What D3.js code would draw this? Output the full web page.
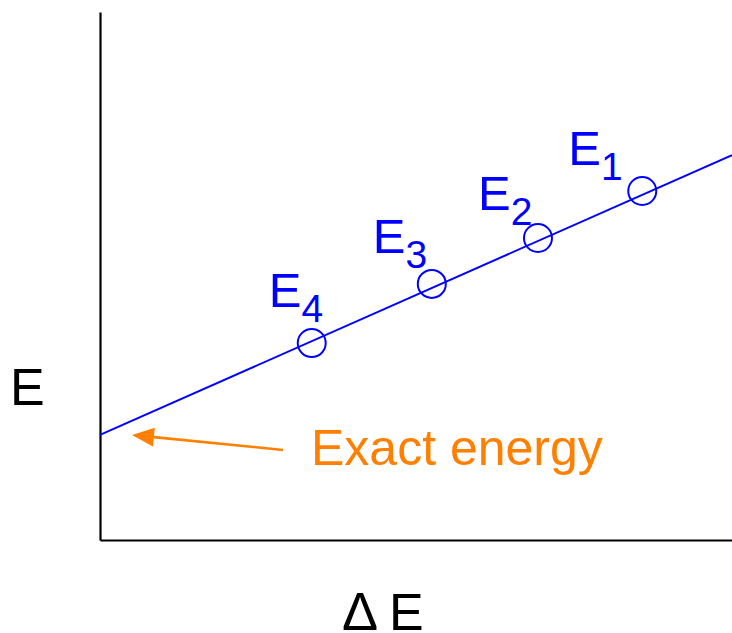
<!DOCTYPE html>
<html>
<head>
<meta charset="utf-8">
<script src="https://cdn.jsdelivr.net/npm/d3@7"></script>
<style>
  html, body { margin: 0; padding: 0; background: #fff; }
  svg { display: block; }
  text { font-family: "Liberation Sans", Arial, Helvetica, sans-serif; }
</style>
</head>
<body>
<svg id="chart" width="732" height="633"></svg>
<script>
// Extrapolation of energy estimates E_n versus the energy spread ΔE
const pointNames = ["1", "2", "3", "4"];          // subscripts of E_n
const pointDeltaE = [8.58, 6.93, 5.25, 3.35];     // ΔE of each estimate
const pointEnergy = [6.61, 5.72, 4.85, 3.73];     // E of each estimate
const fitDeltaE = [0, 10];                         // fitted line, ΔE ends
const fitEnergy = [1.99, 7.29];                    // fitted line, E ends
const annotationText = "Exact energy";
const xTitle = ["Δ", "E"];
const yTitle = "E";

const blue = "#0000ff";
const orange = "#ff8000";

const svg = d3.select("#chart");
const margin = { left: 100, right: 0, top: 12, bottom: 93 };
const W = 732, H = 633;

const x = d3.scaleLinear().domain([0, 10]).range([margin.left, W - margin.right]);
const y = d3.scaleLinear().domain([0, 10]).range([H - margin.bottom, margin.top]);

// Axes: bare lines, no ticks
svg.append("g")
  .attr("transform", `translate(0,${y(0)})`)
  .call(d3.axisBottom(x).ticks(0).tickSizeOuter(0))
  .call(g => g.select(".domain").attr("stroke", "#000").attr("stroke-width", 2.2));
svg.append("g")
  .attr("transform", `translate(${x(0)},0)`)
  .call(d3.axisLeft(y).ticks(0).tickSizeOuter(0))
  .call(g => g.select(".domain").attr("stroke", "#000").attr("stroke-width", 2.2));

// Fitted line
const fit = fitDeltaE.map((d, i) => ({ dx: d, e: fitEnergy[i] }));
svg.append("path")
  .datum(fit)
  .attr("fill", "none")
  .attr("stroke", blue)
  .attr("stroke-width", 2)
  .attr("d", d3.line().x(d => x(d.dx)).y(d => y(d.e)));

// Estimates
const pts = pointNames.map((n, i) => ({ n, dx: pointDeltaE[i], e: pointEnergy[i] }));
svg.append("g").selectAll("circle")
  .data(pts)
  .join("circle")
  .attr("cx", d => x(d.dx))
  .attr("cy", d => y(d.e))
  .attr("r", 14)
  .attr("fill", "none")
  .attr("stroke", blue)
  .attr("stroke-width", 2);

// Labels E_n, placed up-left of each circle
const labelNudge = [[-74, -26], [-60, -28], [-59, -31], [-43, -36]];
const lab = svg.append("g").selectAll("text")
  .data(pts)
  .join("text")
  .attr("x", (d, i) => x(d.dx) + labelNudge[i][0])
  .attr("y", (d, i) => y(d.e) + labelNudge[i][1])
  .attr("fill", blue)
  .attr("font-size", 49);
lab.append("tspan").text("E");
lab.append("tspan").attr("font-size", 39).attr("dy", 15).text(d => d.n);

// Annotation arrow pointing at the intercept
const ix = x(fitDeltaE[0]), iy = y(fitEnergy[0]);
const tip = [ix + 32, iy];
const tail = [ix + 183, iy + 15];
const ang = Math.atan2(tail[1] - tip[1], tail[0] - tip[0]);
const headLen = 22, headHalf = 9.5;
const base = [tip[0] + headLen * Math.cos(ang), tip[1] + headLen * Math.sin(ang)];
const perp = [-Math.sin(ang), Math.cos(ang)];
svg.append("line")
  .attr("x1", base[0]).attr("y1", base[1])
  .attr("x2", tail[0]).attr("y2", tail[1])
  .attr("stroke", orange).attr("stroke-width", 2.6);
svg.append("polygon")
  .attr("points", [
    tip,
    [base[0] + perp[0] * headHalf, base[1] + perp[1] * headHalf],
    [base[0] - perp[0] * headHalf, base[1] - perp[1] * headHalf]
  ].map(p => p.join(",")).join(" "))
  .attr("fill", orange);

svg.append("text")
  .attr("x", 311).attr("y", 465)
  .attr("fill", orange)
  .attr("font-size", 50)
  .text(annotationText);

// Axis titles
svg.append("text")
  .attr("x", 10).attr("y", 405)
  .attr("font-size", 52)
  .attr("fill", "#000")
  .text(yTitle);

const xt = svg.append("text")
  .attr("x", 342).attr("y", 630)
  .attr("fill", "#000");
xt.append("tspan").attr("font-size", 54).text(xTitle[0]);
xt.append("tspan").attr("x", 389).attr("font-size", 52).text(xTitle[1]);
</script>
</body>
</html>
